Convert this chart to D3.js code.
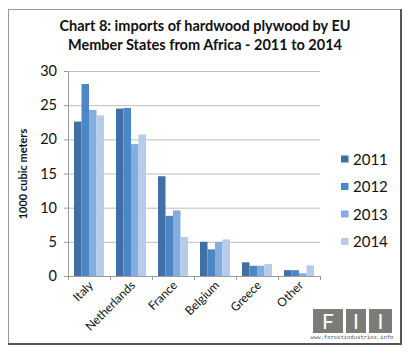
<!DOCTYPE html>
<html>
<head>
<meta charset="utf-8">
<script src="https://cdn.jsdelivr.net/npm/d3@7"></script>
<style>
  body { margin: 0; background: #fff; }
  svg { display: block; font-family: Lato, "Open Sans", sans-serif; }
</style>
</head>
<body>
<svg width="411" height="352"></svg>
<script>
var countries = ["Italy", "Netherlands", "France", "Belgium", "Greece", "Other"]
var years = ["2011", "2012", "2013", "2014"]
var v2011 = [22.6, 24.5, 14.6, 5.0, 2.0, 0.85]
var v2012 = [28.1, 24.6, 8.8, 3.9, 1.5, 0.85]
var v2013 = [24.3, 19.3, 9.6, 5.0, 1.5, 0.4]
var v2014 = [23.5, 20.7, 5.7, 5.35, 1.75, 1.55]
var yTicks = [0, 5, 10, 15, 20, 25, 30]
var colors = ["#3f6fa6", "#4b87c6", "#84acdc", "#b6cce9"]

var series = [v2011, v2012, v2013, v2014]
var svg = d3.select('svg')

// frame
svg.append('rect')
  .attr('x', 8.5).attr('y', 9.5).attr('width', 392).attr('height', 334)
  .attr('fill', 'none').attr('stroke', '#9a9a9a').attr('stroke-width', 1)
svg.append('path')
  .attr('d', 'M401,9 V344 H8')
  .attr('fill', 'none').attr('stroke', '#555').attr('stroke-width', 2)

// title
svg.append('text').attr('x', 205).attr('y', 31)
  .attr('text-anchor', 'middle').attr('font-weight', 'bold').attr('font-size', 14.5)
  .attr('fill', '#111').text('Chart 8: imports of hardwood plywood by EU')
svg.append('text').attr('x', 205).attr('y', 50)
  .attr('text-anchor', 'middle').attr('font-weight', 'bold').attr('font-size', 14.5)
  .attr('fill', '#111').text('Member States from Africa - 2011 to 2014')

var x = d3.scaleBand().domain(countries).range([68, 320]).paddingInner(0.286).paddingOuter(0.143)
var x1 = d3.scaleBand().domain(years).range([0, x.bandwidth()])
var y = d3.scaleLinear().domain([0, 30]).range([276, 71])

// gridlines
svg.append('g').selectAll('line').data(yTicks.slice(1)).enter().append('line')
  .attr('x1', 68).attr('x2', 320)
  .attr('y1', d => y(d) + 0.5).attr('y2', d => y(d) + 0.5)
  .attr('stroke', '#bdbdbd')

// y axis
var yAxis = svg.append('g').attr('transform', 'translate(68,0)')
  .call(d3.axisLeft(y).tickValues(yTicks).tickSize(4).tickPadding(7))
yAxis.select('.domain').attr('stroke', '#9a9a9a')
yAxis.selectAll('line').attr('stroke', '#9a9a9a')
yAxis.selectAll('text').attr('font-size', 14.5).attr('fill', '#111')
  .attr('font-family', 'Lato, sans-serif')

svg.append('text')
  .attr('transform', 'translate(27,174) rotate(-90)')
  .attr('text-anchor', 'middle').attr('font-weight', 'bold').attr('font-size', 11)
  .attr('fill', '#111').text('1000 cubic meters')

// bars
svg.append('g').selectAll('g').data(series).enter().append('g')
  .attr('fill', (d, i) => colors[i])
  .each(function (vals, si) {
    d3.select(this).selectAll('rect').data(vals).enter().append('rect')
      .attr('x', (d, i) => x(countries[i]) + x1(years[si]))
      .attr('width', x1.bandwidth())
      .attr('y', d => y(d))
      .attr('height', d => y(0) - y(d))
  })

// x axis
var step = x.step()
svg.append('line').attr('x1', 68).attr('x2', 320).attr('y1', 276.5).attr('y2', 276.5)
  .attr('stroke', '#9a9a9a')
svg.append('g').selectAll('line').data(d3.range(countries.length + 1)).enter().append('line')
  .attr('x1', i => 68.5 + i * step).attr('x2', i => 68.5 + i * step)
  .attr('y1', 276).attr('y2', 280).attr('stroke', '#9a9a9a')
svg.append('g').selectAll('text').data(countries).enter().append('text')
  .attr('transform', d => 'translate(' + (x(d) + x.bandwidth() / 2 + 5) + ',286) rotate(-45)')
  .attr('text-anchor', 'end').attr('font-size', 12).attr('fill', '#111')
  .text(d => d)

// legend
var leg = svg.append('g').selectAll('g').data(years).enter().append('g')
  .attr('transform', (d, i) => 'translate(341,' + (159 + i * 27.5) + ')')
leg.append('rect').attr('x', 0).attr('y', -3.5).attr('width', 7.5).attr('height', 7)
  .attr('fill', (d, i) => colors[i])
leg.append('text').attr('x', 12).attr('y', 5.5).attr('font-size', 15).attr('fill', '#111')
  .text(d => d)

// FII logo
var logo = svg.append('g')
var boxes = [[313, 30, 'F'], [346, 20, 'I'], [369, 23, 'I']]
logo.selectAll('rect').data(boxes).enter().append('rect')
  .attr('x', d => d[0]).attr('y', 309).attr('width', d => d[1]).attr('height', 24)
  .attr('fill', '#7b7b78')
logo.selectAll('text.l').data(boxes).enter().append('text')
  .attr('x', d => d[0] + d[1] / 2).attr('y', 329)
  .attr('text-anchor', 'middle').attr('font-size', 21)
  .attr('fill', '#fff').text(d => d[2])
logo.append('rect').attr('x', 313).attr('y', 333).attr('width', 79).attr('height', 7).attr('fill', '#fff')
logo.append('text').attr('x', 352).attr('y', 339).attr('text-anchor', 'middle')
  .attr('font-size', 5.5).attr('font-family', 'DejaVu Sans Mono, monospace').attr('fill', '#555')
  .text('www.forestindustries.info')
</script>
</body>
</html>
